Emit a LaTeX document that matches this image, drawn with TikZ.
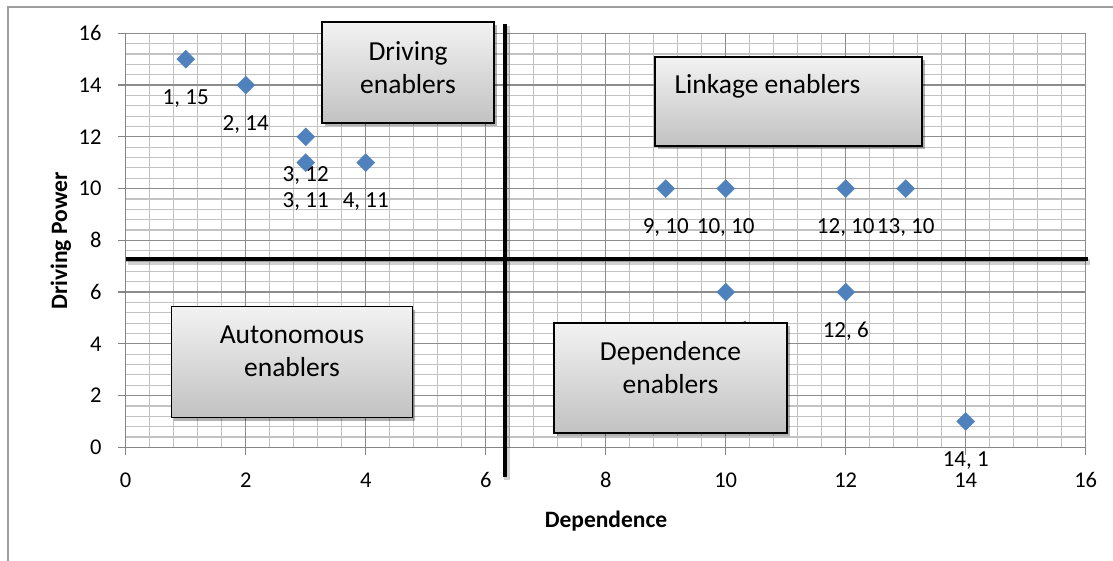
\documentclass[tikz,border=0pt]{standalone}
\usepackage{fontspec}
\setmainfont{Carlito}
\usetikzlibrary{shadows,shapes.geometric}
\definecolor{mk}{HTML}{4F81BD}
\begin{document}
\begin{tikzpicture}[x=1pt,y=-1pt,
  minorg/.style={draw=white!76!black, line width=1.2pt},
  majorg/.style={draw=white!55!black, line width=1.2pt},
  axisl/.style={draw=white!52!black, line width=1.3pt},
  ticklbl/.style={inner sep=0pt, font=\fontsize{22.5}{27}\selectfont},
  datalbl/.style={inner sep=0pt, text depth=0pt, font=\fontsize{23}{27}\selectfont},
  datapt/.style={diamond, fill=mk, draw=mk, line width=0.5pt, inner sep=0pt, minimum width=18pt, minimum height=18pt},
  heavy/.style={line width=4.5pt, black},
  heavyshadow/.style={line width=6pt, black, opacity=0.18},
  encbox/.style={draw=black, line width=1.6pt, top color=white!95!black, bottom color=white!76!black,
    drop shadow={shadow xshift=2.5pt, shadow yshift=-3pt, opacity=0.3, fill=black}},
  boxtxt/.style={inner sep=0pt, align=center, font=\fontsize{27.5}{33}\selectfont},
  axtitle/.style={inner sep=0pt, text depth=0pt, font=\fontsize{23.5}{28}\selectfont\bfseries}
]
\useasboundingbox (0,0) rectangle (1113,561);
\fill[white] (0,0) rectangle (1113,561);
% chart border
\draw[draw=white!62!black, line width=1.2pt] (8,561) -- (8,7) -- (1113,7);

\begin{scope}[shift={(125.7pt,-447.3pt)}, x=60pt, y=25.875pt]
  % grid
  \foreach \k in {1,...,40} {
    \draw[minorg] (\k*0.4,0) -- (\k*0.4,16);
    \draw[minorg] (0,\k*0.4) -- (16,\k*0.4);
  }
  \foreach \k in {2,4,...,16} {
    \draw[majorg] (\k,0) -- (\k,16);
    \draw[majorg] (0,\k) -- (16,\k);
  }
  % axes
  \draw[axisl] (0,16) -- (0,0) -- (16,0);
  \foreach \k in {0,2,...,16} {
    \draw[axisl] (\k,0) -- ++(0,-8pt);
    \draw[axisl] (0,\k) -- ++(-8pt,0);
    \node[ticklbl, anchor=east] (ty\k) at ([xshift=-24pt]0,\k) {\k};
    \node[ticklbl] (tx\k) at ([yshift=-32.7pt]\k,0) {\k};
  }
  % quadrant dividers
  \coordinate (vtop) at (6.32,16.36);
  \coordinate (vbot) at (6.32,-1.15);
  \coordinate (hleft) at (0,7.27);
  \coordinate (hright) at (16.04,7.27);
  \draw[heavyshadow] ([shift={(2pt,-2.5pt)}]vtop) -- ([shift={(2pt,-2.5pt)}]vbot);
  \draw[heavyshadow] ([shift={(2pt,-2.5pt)}]hleft) -- ([shift={(2pt,-2.5pt)}]hright);
  \draw[heavy] (vtop) -- (vbot);
  \draw[heavy] (hleft) -- (hright);
  % data points
  \foreach \x/\y [count=\i] in {1/15,2/14,3/12,3/11,4/11,9/10,10/10,12/10,13/10,10/6,12/6,14/1} {
    \node[datapt] (p\i) at (\x,\y) {};
    \node[datalbl] (l\i) at ([yshift=-37.5pt]p\i.center) {\x, \y};
  }
\end{scope}

% axis titles
\node[axtitle] (xt) at (606,519) {Dependence};
\node[axtitle, rotate=90] (yt) at (59,241) {Driving Power};

% quadrant boxes
\node[encbox, minimum width=172pt, minimum height=101pt] (drv) at (408,72.5) {};
\node[boxtxt] (drvT) at (408,68) {Driving\\enablers};
\node[encbox, minimum width=267pt, minimum height=89pt] (lnk) at (788.5,101.5) {};
\node[boxtxt, anchor=base] (lnkT) at (767.5,93.3) {Linkage enablers};
\node[encbox, minimum width=241pt, minimum height=111pt] (aut) at (292,362) {};
\node[boxtxt] (autT) at (292,351) {Autonomous\\enablers};
\node[encbox, minimum width=233pt, minimum height=110pt] (dep) at (670.5,378) {};
\node[boxtxt] (depT) at (670.5,368) {Dependence\\enablers};
\end{tikzpicture}
\end{document}
